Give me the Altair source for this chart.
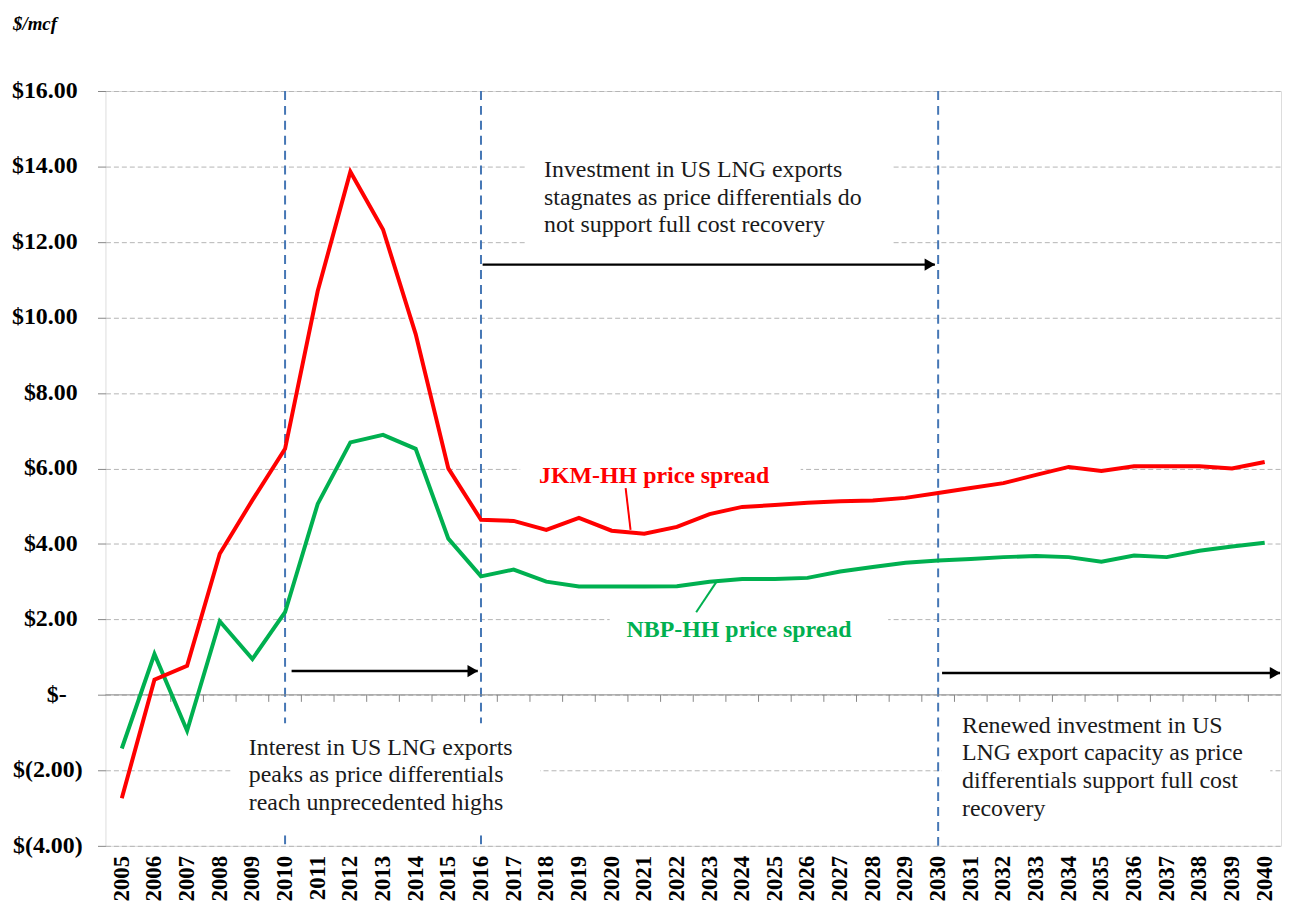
import altair as alt
import pandas as pd

# ---------------- data ----------------
years = list(range(2005, 2041))
jkm_hh = [-2.74, 0.40, 0.77, 3.74, 5.16, 6.52, 10.70, 13.86, 12.33, 9.56, 6.00, 4.64,
          4.61, 4.37, 4.69, 4.35, 4.27, 4.45, 4.79, 4.98, 5.03, 5.09, 5.13, 5.15,
          5.22, 5.35, 5.48, 5.61, 5.83, 6.04, 5.93, 6.06, 6.06, 6.06, 6.00, 6.17]
nbp_hh = [-1.42, 1.08, -0.95, 1.95, 0.95, 2.19, 5.06, 6.69, 6.89, 6.52, 4.14, 3.14,
          3.32, 3.00, 2.87, 2.87, 2.87, 2.88, 3.00, 3.07, 3.07, 3.10, 3.27, 3.39,
          3.50, 3.56, 3.60, 3.65, 3.68, 3.65, 3.53, 3.69, 3.65, 3.82, 3.93, 4.03]
year_labels = [str(y) for y in years]

y_ticks = [-4, -2, 0, 2, 4, 6, 8, 10, 12, 14, 16]
y_tick_labels = ["$(4.00)", "$(2.00)", "$-", "$2.00", "$4.00", "$6.00", "$8.00",
                 "$10.00", "$12.00", "$14.00", "$16.00"]
# accounting-style alignment: negatives hang a parenthesis, zero shows a dash
y_label_kind = ["neg", "neg", "zero", "pos", "pos", "pos", "pos", "pos", "pos", "pos", "pos"]

# milestone years (dashed vertical lines); the lower text box interrupts 2010 / 2016
vseg_x = [2010, 2016, 2030, 2010, 2016]
vseg_y1 = [16, 16, 16, -3.72, -3.72]
vseg_y2 = [-0.76, -0.76, -4, -4, -4]

# period arrows
arrow_x1 = [2010.2, 2016.05, 2030.12]
arrow_x2 = [2015.9, 2029.9, 2040.47]
arrow_y = [0.63, 11.4, 0.58]

# white backgrounds of the text boxes
box_x1 = [2017.41, 2017.2, 2019.94, 2008.37, 2030.1]
box_x2 = [2028.59, 2025.79, 2028.47, 2017.81, 2040.17]
box_y1 = [14.39, 6.3, 2.3, -0.76, -0.4]
box_y2 = [11.88, 5.7, 1.7, -3.72, -3.7]

notes = [
    "Investment in US LNG exports\nstagnates as price differentials do\nnot support full cost recovery",
    "Interest in US LNG exports\npeaks as price differentials\nreach unprecedented highs",
    "Renewed investment in US\nLNG export capacity as price\ndifferentials support full cost\nrecovery",
]
note_x = [2017.93, 2008.89, 2030.73]
note_y = [13.73, -1.58, -1.0]

series_labels = ["JKM-HH price spread", "NBP-HH price spread"]
label_x = [2017.78, 2020.46]
label_y = [5.61, 1.53]
label_colors = ["#ff0000", "#00b050"]

leader_x1 = [2020.43, 2022.59]
leader_x2 = [2020.58, 2023.2]
leader_y1 = [5.48, 2.19]
leader_y2 = [4.37, 2.98]

FONT = "Liberation Serif"
PLOT_H = 759

# ---------------- scales / axes ----------------
xscale = alt.Scale(domain=[2004.5, 2040.5], nice=False, zero=False)
yscale = alt.Scale(domain=[-4, 16], nice=False, zero=False)

y_axis = alt.Axis(
    values=y_ticks, labels=False, tickSize=8, tickColor="#868686", domain=False,
    grid=True, gridColor="#b4b4b4", gridDash=[5, 3], gridWidth=1, title=None,
)

# ---------------- layers ----------------
df_line = pd.DataFrame({"year": years, "jkm": jkm_hh, "nbp": nbp_hh, "lab": year_labels})

line_nbp = alt.Chart(df_line).mark_line(color="#00b050", strokeWidth=4).encode(
    x=alt.X("year:Q", scale=xscale, axis=None),
    y=alt.Y("nbp:Q", scale=yscale, axis=y_axis),
)
line_jkm = alt.Chart(df_line).mark_line(color="#ff0000", strokeWidth=4).encode(
    x=alt.X("year:Q", scale=xscale, axis=None),
    y=alt.Y("jkm:Q", scale=yscale, title=None),
)

# year labels under the plot (rotated, bold)
x_labels = alt.Chart(df_line).mark_text(
    angle=270, align="right", baseline="middle", font=FONT, fontSize=23,
    fontWeight="bold", color="#000000",
).encode(
    x=alt.X("year:Q", scale=xscale, axis=None),
    y=alt.value(PLOT_H + 10),
    text="lab:N",
)

# value labels left of the plot
df_ylab = pd.DataFrame({"v": y_ticks, "t": y_tick_labels, "k": y_label_kind})
ylab_base = alt.Chart(df_ylab).encode(
    y=alt.Y("v:Q", scale=yscale, title=None), text="t:N",
)
ylab_style = dict(align="right", baseline="middle", font=FONT, fontSize=24,
                  fontWeight="bold", color="#000000")
ylab_pos = ylab_base.mark_text(**ylab_style).encode(x=alt.value(-28)).transform_filter(
    alt.datum.k == "pos")
ylab_neg = ylab_base.mark_text(**ylab_style).encode(x=alt.value(-23)).transform_filter(
    alt.datum.k == "neg")
ylab_zero = ylab_base.mark_text(**ylab_style).encode(x=alt.value(-39)).transform_filter(
    alt.datum.k == "zero")

df_box = pd.DataFrame({"x1": box_x1, "x2": box_x2, "y1": box_y1, "y2": box_y2})
boxes = alt.Chart(df_box).mark_rect(color="white").encode(
    x=alt.X("x1:Q", scale=xscale, axis=None), x2="x2:Q",
    y=alt.Y("y1:Q", scale=yscale, title=None), y2="y2:Q",
)

df_zero = pd.DataFrame({"z": [0]})
zero_line = alt.Chart(df_zero).mark_rule(color="#868686", strokeWidth=1).encode(
    y=alt.Y("z:Q", scale=yscale, title=None),
)
df_bound = pd.DataFrame({"b": [y + 0.5 for y in years[:-1]], "z": 0})
zero_ticks = alt.Chart(df_bound).mark_rule(color="#868686", strokeWidth=1, y2Offset=7).encode(
    x=alt.X("b:Q", scale=xscale, axis=None),
    y=alt.Y("z:Q", scale=yscale, title=None), y2="z:Q",
)

df_v = pd.DataFrame({"x": vseg_x, "y1": vseg_y1, "y2": vseg_y2})
vlines = alt.Chart(df_v).mark_rule(color="#4677b5", strokeWidth=2, strokeDash=[9, 6]).encode(
    x=alt.X("x:Q", scale=xscale, axis=None),
    y=alt.Y("y1:Q", scale=yscale, title=None), y2="y2:Q",
)

df_arrow = pd.DataFrame({"x1": arrow_x1, "x2": arrow_x2, "y": arrow_y})
arrow_lines = alt.Chart(df_arrow).mark_rule(color="#000000", strokeWidth=2.5).encode(
    x=alt.X("x1:Q", scale=xscale, axis=None), x2="x2:Q",
    y=alt.Y("y:Q", scale=yscale, title=None),
)
arrow_heads = alt.Chart(df_arrow).mark_point(
    shape="triangle-right", filled=True, color="#000000", size=150, xOffset=-5, opacity=1
).encode(
    x=alt.X("x2:Q", scale=xscale, axis=None),
    y=alt.Y("y:Q", scale=yscale, title=None),
)

df_lead = pd.DataFrame({"x1": leader_x1, "x2": leader_x2, "y1": leader_y1, "y2": leader_y2,
                        "c": label_colors})
leaders = alt.Chart(df_lead).mark_rule(strokeWidth=2).encode(
    x=alt.X("x1:Q", scale=xscale, axis=None), x2="x2:Q",
    y=alt.Y("y1:Q", scale=yscale, title=None), y2="y2:Q",
    color=alt.Color("c:N", scale=None, legend=None),
)

df_notes = pd.DataFrame({"x": note_x, "y": note_y, "t": notes})
note_text = alt.Chart(df_notes).mark_text(
    align="left", baseline="alphabetic", font=FONT, fontSize=24, lineBreak="\n",
    lineHeight=28, color="#1a1a1a",
).encode(
    x=alt.X("x:Q", scale=xscale, axis=None),
    y=alt.Y("y:Q", scale=yscale, title=None),
    text="t:N",
)

df_lab = pd.DataFrame({"x": label_x, "y": label_y, "t": series_labels, "c": label_colors})
label_text = alt.Chart(df_lab).mark_text(
    align="left", baseline="alphabetic", font=FONT, fontSize=24, fontWeight="bold",
).encode(
    x=alt.X("x:Q", scale=xscale, axis=None),
    y=alt.Y("y:Q", scale=yscale, title=None),
    text="t:N",
    color=alt.Color("c:N", scale=None, legend=None),
)

unit_title = alt.Chart(pd.DataFrame({"t": ["$/mcf"]})).mark_text(
    align="left", baseline="alphabetic", font=FONT, fontSize=19, fontWeight="bold",
    fontStyle="italic", color="#000000",
).encode(x=alt.value(-93), y=alt.value(-61), text="t:N")

chart = alt.layer(
    line_nbp.mark_line(opacity=0),  # axis & grid owner (invisible)
    vlines, boxes, zero_line, zero_ticks,
    line_nbp, line_jkm, arrow_lines, arrow_heads, leaders, note_text, label_text,
    x_labels, ylab_pos, ylab_neg, ylab_zero, unit_title,
).properties(
    width=1182, height=PLOT_H,
    autosize=alt.AutoSizeParams(type="none"),
    padding={"left": 98, "top": 81, "right": 2, "bottom": 56},
).configure_view(
    stroke="#868686", strokeWidth=1,
).configure(background="white")

chart.save("out.html", embed_options={"renderer": "svg", "actions": False})
